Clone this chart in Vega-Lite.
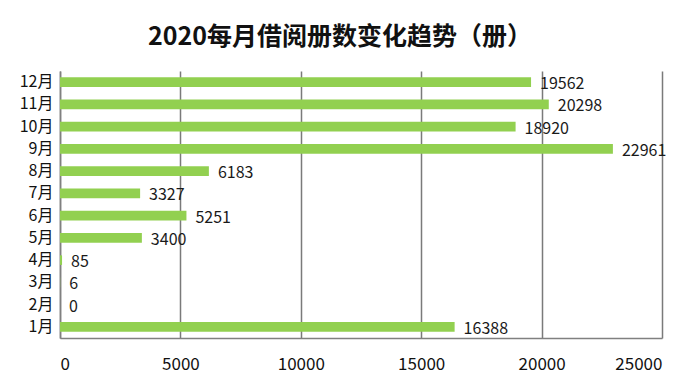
{
  "$schema": "https://vega.github.io/schema/vega-lite/v6.json",
  "width": 602,
  "height": 267,
  "autosize": {"type": "none"},
  "padding": {"left": 60, "top": 71, "right": 38, "bottom": 49},
  "background": "white",
  "title": {
    "text": "2020每月借阅册数变化趋势（册）",
    "font": "Noto Sans CJK SC",
    "fontSize": 25,
    "fontWeight": "bold",
    "color": "#111111",
    "anchor": "middle",
    "dx": -21,
    "offset": 21
  },
  "config": {
    "view": {"stroke": null},
    "font": "Noto Sans CJK SC"
  },
  "data": {
    "values": [
      {"month": "1月", "value": 16388},
      {"month": "2月", "value": 0},
      {"month": "3月", "value": 6},
      {"month": "4月", "value": 85},
      {"month": "5月", "value": 3400},
      {"month": "6月", "value": 5251},
      {"month": "7月", "value": 3327},
      {"month": "8月", "value": 6183},
      {"month": "9月", "value": 22961},
      {"month": "10月", "value": 18920},
      {"month": "11月", "value": 20298},
      {"month": "12月", "value": 19562}
    ]
  },
  "encoding": {
    "y": {
      "field": "month",
      "type": "nominal",
      "sort": ["12月", "11月", "10月", "9月", "8月", "7月", "6月", "5月", "4月", "3月", "2月", "1月"],
      "scale": {"paddingInner": 0.57, "paddingOuter": 0.285},
      "axis": {
        "title": null,
        "ticks": false,
        "labelFontSize": 16,
        "labelColor": "#111111",
        "labelPadding": 7,
        "domainColor": "#808080",
        "domainWidth": 1.5,
        "grid": false
      }
    },
    "x": {
      "field": "value",
      "type": "quantitative",
      "scale": {"domain": [0, 25000], "nice": false},
      "axis": {
        "title": null,
        "values": [0, 5000, 10000, 15000, 20000, 25000],
        "format": "d",
        "ticks": false,
        "labelFontSize": 17,
        "labelColor": "#111111",
        "labelPadding": 18,
        "domainColor": "#808080",
        "domainWidth": 1.5,
        "grid": true,
        "gridColor": "#7a7a7a",
        "gridWidth": 1.5
      }
    }
  },
  "layer": [
    {
      "mark": {"type": "bar", "color": "#92D050"}
    },
    {
      "mark": {"type": "text", "align": "left", "baseline": "middle", "dx": 9, "dy": 2, "fontSize": 16, "color": "#1a1a1a"},
      "encoding": {
        "text": {"field": "value", "type": "quantitative", "format": "d"}
      }
    }
  ]
}
